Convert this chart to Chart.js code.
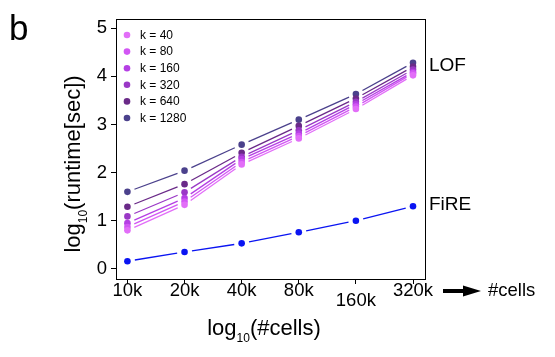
<!DOCTYPE html>
<html>
<head>
<meta charset="utf-8">
<script src="https://cdn.jsdelivr.net/npm/chart.js@4/dist/chart.umd.min.js"></script>
<style>
  html, body { margin: 0; padding: 0; background: #fff; }
  #chart { display: block; }
</style>
</head>
<body>
<canvas id="chart" width="555" height="357"></canvas>
<script>
// number of cells (x) and tick labels
const cellCounts = [10000, 20000, 40000, 80000, 160000, 320000];
const cellLabels = ['10k', '20k', '40k', '80k', '160k', '320k'];
const yTicks = [0, 1, 2, 3, 4, 5];

// log10(runtime[sec])
const lofK40   = [0.80, 1.33, 2.17, 2.71, 3.32, 4.02];
const lofK80   = [0.87, 1.40, 2.22, 2.76, 3.37, 4.06];
const lofK160  = [0.95, 1.47, 2.28, 2.81, 3.42, 4.09];
const lofK320  = [1.09, 1.59, 2.33, 2.88, 3.47, 4.14];
const lofK640  = [1.29, 1.76, 2.41, 2.97, 3.54, 4.20];
const lofK1280 = [1.60, 2.04, 2.58, 3.10, 3.63, 4.28];
const fire     = [0.16, 0.35, 0.53, 0.76, 1.00, 1.30];

const legendLabels = ['k = 40', 'k = 80', 'k = 160', 'k = 320', 'k = 640', 'k = 1280'];
const lofColors = ['#E26EF8', '#D256F4', '#B53FE4', '#9A38C6', '#6A2A88', '#4B418C'];
const fireColor = '#0A14F2';

const FONT = '"Liberation Sans", Arial, Helvetica, sans-serif';

function series(values, color, label) {
  return {
    label: label,
    data: values.map((v, i) => ({ x: cellCounts[i], y: v })),
    showLine: false,
    borderColor: color,
    backgroundColor: color,
    pointBackgroundColor: color,
    pointBorderWidth: 0,
    pointRadius: 3.3,
    pointHoverRadius: 3.3
  };
}

const datasets = [
  series(lofK40, lofColors[0], legendLabels[0]),
  series(lofK80, lofColors[1], legendLabels[1]),
  series(lofK160, lofColors[2], legendLabels[2]),
  series(lofK320, lofColors[3], legendLabels[3]),
  series(lofK640, lofColors[4], legendLabels[4]),
  series(lofK1280, lofColors[5], legendLabels[5]),
  series(fire, fireColor, 'FiRE')
];

// R type="b" style lines: segments stop short of each point
const gappedLines = {
  id: 'gappedLines',
  beforeDatasetsDraw(chart) {
    const ctx = chart.ctx;
    const gap = 7.5;
    ctx.save();
    ctx.lineWidth = 1.3;
    chart.data.datasets.forEach((ds, di) => {
      const pts = chart.getDatasetMeta(di).data;
      ctx.strokeStyle = ds.borderColor;
      for (let i = 0; i < pts.length - 1; i++) {
        const a = pts[i], b = pts[i + 1];
        const dx = b.x - a.x, dy = b.y - a.y;
        const len = Math.hypot(dx, dy);
        if (len <= 2 * gap) continue;
        const ux = dx / len, uy = dy / len;
        ctx.beginPath();
        ctx.moveTo(a.x + ux * gap, a.y + uy * gap);
        ctx.lineTo(b.x - ux * gap, b.y - uy * gap);
        ctx.stroke();
      }
    });
    ctx.restore();
  }
};

// box, legend, labels and axis titles
const decorations = {
  id: 'decorations',
  afterDraw(chart) {
    const ctx = chart.ctx;
    const area = chart.chartArea;
    const xs = chart.scales.x;
    ctx.save();

    // full box round the plot
    ctx.strokeStyle = '#000';
    ctx.lineWidth = 1;
    ctx.strokeRect(area.left + 0.5, area.top + 0.5, area.right - area.left, area.bottom - area.top);

    // legend inside the plot
    ctx.font = '12px ' + FONT;
    ctx.textBaseline = 'middle';
    ctx.textAlign = 'left';
    legendLabels.forEach((lab, i) => {
      const y = 35 + i * 16.6;
      ctx.fillStyle = lofColors[i];
      ctx.beginPath();
      ctx.arc(127, y, 3.3, 0, Math.PI * 2);
      ctx.fill();
      ctx.fillStyle = '#000';
      ctx.fillText(lab, 140, y + 0.5);
    });

    // x tick labels (160k sits a little lower, as in the original)
    ctx.font = '18.5px ' + FONT;
    ctx.textAlign = 'center';
    ctx.textBaseline = 'alphabetic';
    ctx.fillStyle = '#000';
    cellCounts.forEach((c, i) => {
      const dy = cellLabels[i] === '160k' ? 10 : 0;
      ctx.fillText(cellLabels[i], xs.getPixelForValue(c), 296 + dy);
    });

    // arrow and "#cells"
    ctx.beginPath();
    ctx.fillRect(443, 289, 22, 4);
    ctx.moveTo(463, 285.5);
    ctx.lineTo(481, 291);
    ctx.lineTo(463, 296.5);
    ctx.closePath();
    ctx.fill();
    ctx.textAlign = 'left';
    ctx.fillText('#cells', 488, 296);

    // series labels
    ctx.font = '19px ' + FONT;
    ctx.fillText('LOF', 429, 71);
    ctx.fillText('FiRE', 429, 210);

    // panel letter
    ctx.font = '35px ' + FONT;
    ctx.fillText('b', 9, 40);

    // x title: log10(#cells)
    drawSubTitle(ctx, 264, 335, '#cells');

    // y title rotated
    ctx.save();
    ctx.translate(80, 164);
    ctx.rotate(-Math.PI / 2);
    drawSubTitle(ctx, 0, 0, 'runtime[sec]');
    ctx.restore();

    ctx.restore();
  }
};

function drawSubTitle(ctx, cx, baseline, inner) {
  const big = '22px ' + FONT, small = '12px ' + FONT;
  ctx.font = big;
  const w1 = ctx.measureText('log').width;
  const w3 = ctx.measureText('(' + inner + ')').width;
  ctx.font = small;
  const w2 = ctx.measureText('10').width;
  let x = cx - (w1 + w2 + w3) / 2;
  ctx.textAlign = 'left';
  ctx.textBaseline = 'alphabetic';
  ctx.fillStyle = '#000';
  ctx.font = big;
  ctx.fillText('log', x, baseline);
  x += w1;
  ctx.font = small;
  ctx.fillText('10', x, baseline + 7);
  x += w2;
  ctx.font = big;
  ctx.fillText('(' + inner + ')', x, baseline);
}

new Chart(document.getElementById('chart'), {
  type: 'scatter',
  data: { datasets: datasets },
  options: {
    responsive: false,
    animation: false,
    layout: { padding: { left: 0, top: 19, right: 130, bottom: 0 } },
    plugins: {
      legend: { display: false },
      tooltip: { enabled: false }
    },
    scales: {
      x: {
        type: 'logarithmic',
        min: 10000 * Math.pow(2, -0.2),
        max: 320000 * Math.pow(2, 0.21),
        afterBuildTicks: s => { s.ticks = cellCounts.map(v => ({ value: v })); },
        afterFit: s => { s.height = 78; },
        ticks: { display: false },
        grid: { drawOnChartArea: false, drawTicks: true, tickLength: 5, color: '#000', tickWidth: 1 },
        border: { display: true, color: '#000', width: 1 }
      },
      y: {
        min: -0.21,
        max: 5.19,
        afterBuildTicks: s => { s.ticks = yTicks.map(v => ({ value: v })); },
        afterFit: s => { s.width = 116; },
        ticks: {
          color: '#000',
          padding: 4,
          font: { family: FONT, size: 18.5 }
        },
        grid: { drawOnChartArea: false, drawTicks: true, tickLength: 5, color: '#000', tickWidth: 1 },
        border: { display: true, color: '#000', width: 1 }
      }
    }
  },
  plugins: [gappedLines, decorations]
});
</script>
</body>
</html>
